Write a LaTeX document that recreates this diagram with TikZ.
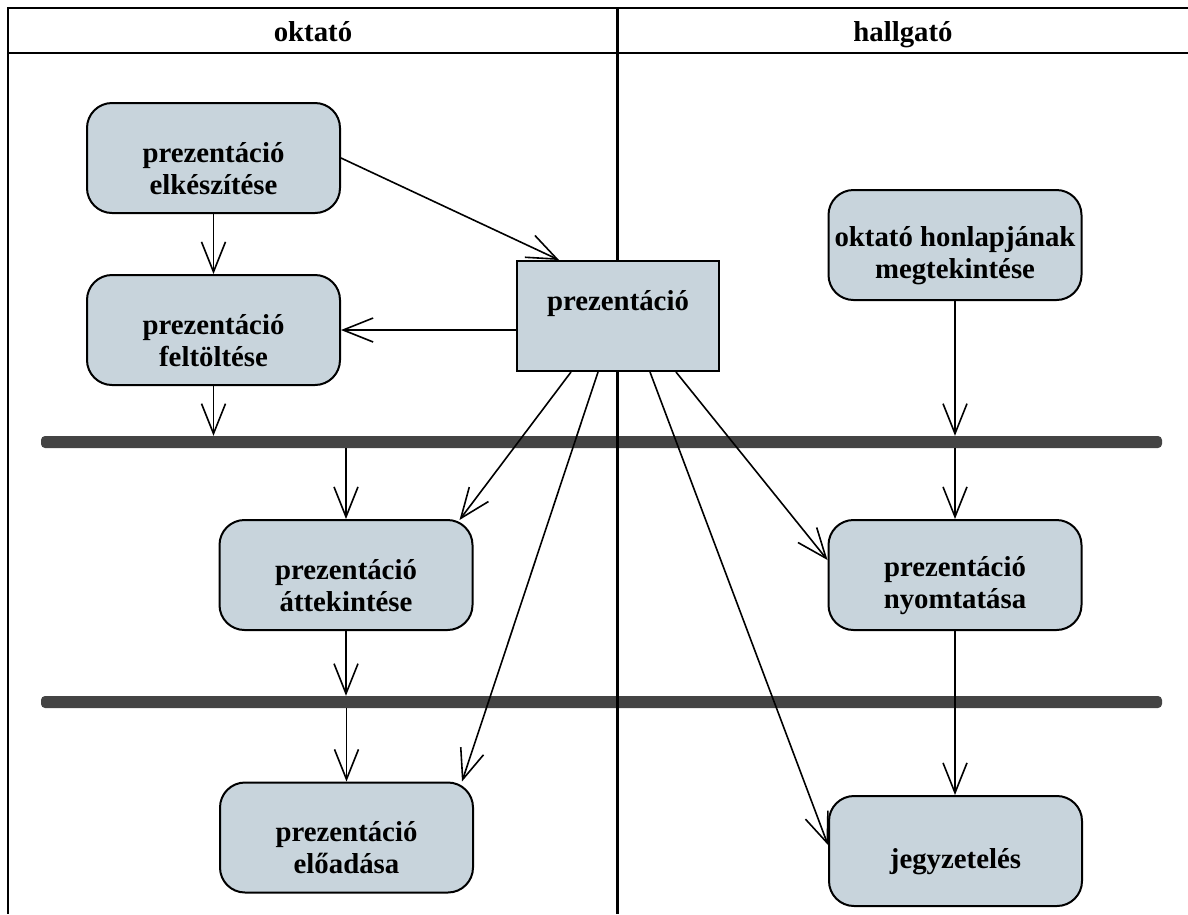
\documentclass[tikz,border=0pt]{standalone}
\usepackage{fontspec}
\setmainfont{Liberation Serif}
\usetikzlibrary{arrows.meta,calc}
\definecolor{boxfill}{HTML}{C8D4DC}
\definecolor{barcol}{HTML}{444444}
\newcommand{\tstrut}{\rule{0pt}{41pt}}
\begin{document}
\begin{tikzpicture}[x=1pt,y=-1pt,
  txt/.style={font=\fontsize{28.8}{32}\selectfont\bfseries},
  act/.style={txt, draw, line width=2pt, fill=boxfill, rounded corners=25pt,
    minimum width=253pt, minimum height=110pt, align=center, inner sep=0pt},
  obj/.style={txt, draw, line width=2pt, fill=boxfill,
    minimum width=202pt, minimum height=110pt, align=center, inner sep=0pt,
    text height=20pt, text depth=32pt},
  bar/.style={fill=barcol, rounded corners=4pt, minimum width=1121pt,
    minimum height=12pt, inner sep=0pt},
  frame/.style={line width=2.2pt},
  arr/.style={line width=1.6pt, -{Straight Barb[length=30pt,width=24pt,line width=1.6pt]}}]
\useasboundingbox (0,0) rectangle (1188,914);
% synchronisation bars
\node[bar] (bar1) at (601.5,442) {};
\node[bar] (bar2) at (601.5,702) {};
% swimlane frame
\draw[frame] (7,8) -- (1188,8);
\draw[frame] (7,53) -- (1188,53);
\draw[frame] (8,7) -- (8,914);
\draw[frame] (617.5,7) -- (617.5,914);
\node[txt, anchor=base] (lane1) at (313,41) {oktató};
\node[txt, anchor=base] (lane2) at (903,41) {hallgató};
% activities
\node[act] (elk) at (213.5,158) {\tstrut prezentáció\\elkészítése};
\node[act] (felt) at (213.5,330) {\tstrut prezentáció\\feltöltése};
\node[obj] (prez) at (618,316) {prezentáció};
\node[act] (okt) at (955,245) {\tstrut oktató honlapjának\\megtekintése};
\node[act] (att) at (346,575) {\tstrut prezentáció\\áttekintése};
\node[act] (nyom) at (955,575) {\tstrut prezentáció\\nyomtatása};
\node[act] (elo) at (346.5,837.5) {\tstrut prezentáció\\előadása};
\node[act] (jegy) at (955.5,851) {\tstrut jegyzetelés};
% flows
\draw[arr] (elk) -- (felt);
\draw[arr] (elk.east) -- ($(prez.north west)+(43,0)$);
\draw[arr] (prez.west |- felt.east) -- (felt.east);
\draw[arr] (felt) -- (felt |- bar1.north);
\draw[arr] (att |- bar1.south) -- (att);
\draw[arr] ($(prez.south west)+(55,0)$) -- ($(att.north east)+(-14,1)$);
\draw[arr] ($(prez.south west)+(82,0)$) -- ($(elo.north east)+(-12,0)$);
\draw[arr] (att) -- (att |- bar2.north);
\draw[arr] (elo |- bar2.south) -- (elo);
\draw[arr] ($(prez.south west)+(134,0)$) -- ($(jegy.west)+(0,-6)$);
\draw[arr] ($(prez.south west)+(160,0)$) -- ($(nyom.west)+(0,-15)$);
\draw[arr] (okt) -- (okt |- bar1.north);
\draw[arr] (nyom |- bar1.south) -- (nyom);
\draw[arr] (nyom.south) -- (nyom.south |- jegy.north);
\end{tikzpicture}
\end{document}
